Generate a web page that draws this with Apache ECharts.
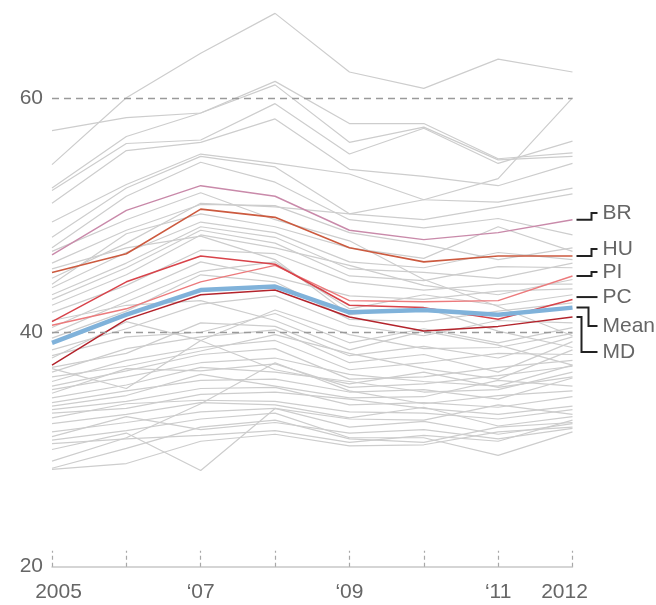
<!DOCTYPE html>
<html>
<head>
<meta charset="utf-8">
<script src="https://cdn.jsdelivr.net/npm/echarts@6/dist/echarts.min.js"></script>
<style>html,body{margin:0;padding:0;background:#fff}#c{width:656px;height:605px}</style>
</head>
<body>
<div id="c"></div>
<script>
var years = [2005, 2006, 2007, 2008, 2009, 2010, 2011, 2012];
var xTickLabels = {2005: '2005', 2007: '\u201807', 2009: '\u201809', 2011: '\u201811', 2012: '2012'};
var yTicks = [20, 40, 60];
var refLines = [40, 60];

var grayLines = [
  [54.3, 60.0, 63.8, 67.2, 62.2, 60.8, 63.3, 62.2],
  [57.2, 58.3, 58.7, 61.4, 57.8, 57.8, 54.8, 55.3],
  [52.3, 56.7, 58.7, 61.1, 56.2, 57.5, 54.7, 55.0],
  [52.1, 56.1, 56.4, 59.5, 55.2, 57.4, 54.4, 56.3],
  [51.0, 55.5, 56.2, 58.2, 53.9, 53.3, 52.5, 54.4],
  [49.4, 52.6, 55.2, 54.4, 53.5, 51.3, 51.1, 52.3],
  [48.1, 52.3, 55.0, 54.1, 50.1, 49.6, 50.7, 51.8],
  [47.2, 51.6, 54.5, 52.8, 49.6, 48.9, 49.7, 48.3],
  [44.6, 47.6, 51.0, 50.7, 50.1, 51.3, 53.1, 60.0],
  [45.9, 48.7, 50.9, 50.8, 48.5, 47.5, 46.2, 47.2],
  [44.1, 48.4, 50.1, 49.0, 47.2, 46.3, 49.0, 46.9],
  [43.8, 46.8, 49.4, 48.5, 46.0, 45.5, 46.8, 46.2],
  [43.2, 45.9, 49.0, 48.1, 45.4, 45.1, 44.6, 45.9],
  [42.8, 45.5, 48.7, 47.6, 44.8, 44.4, 45.6, 45.5],
  [42.3, 44.9, 48.3, 47.2, 45.7, 44.0, 43.2, 44.5],
  [41.7, 44.0, 47.0, 46.7, 44.3, 43.6, 44.1, 44.1],
  [40.4, 43.2, 46.0, 44.7, 43.1, 42.8, 43.5, 43.7],
  [39.9, 42.6, 45.2, 46.0, 42.0, 43.2, 42.3, 43.2],
  [39.5, 41.8, 44.9, 44.3, 41.1, 40.9, 41.8, 42.5],
  [38.5, 40.3, 42.4, 43.1, 40.6, 39.7, 41.0, 40.8],
  [38.0, 39.6, 40.0, 41.6, 39.1, 40.3, 39.1, 40.4],
  [37.8, 40.9, 39.3, 41.9, 39.8, 38.6, 38.7, 39.9],
  [37.0, 38.2, 40.8, 40.5, 38.0, 38.8, 37.8, 39.6],
  [36.6, 38.6, 39.6, 40.2, 37.4, 38.1, 36.6, 39.2],
  [36.2, 37.1, 38.4, 39.8, 38.2, 36.9, 36.0, 38.5],
  [35.8, 37.6, 38.7, 39.3, 36.8, 37.4, 38.2, 38.1],
  [35.4, 36.7, 38.1, 38.6, 36.0, 36.2, 37.0, 37.6],
  [35.1, 36.2, 37.4, 37.8, 36.4, 35.8, 35.4, 37.2],
  [34.8, 36.9, 36.7, 37.3, 35.3, 35.6, 36.3, 37.1],
  [34.4, 35.5, 37.0, 36.6, 35.8, 34.9, 35.1, 36.6],
  [34.0, 35.0, 35.9, 36.0, 34.9, 35.1, 34.3, 36.1],
  [33.7, 34.6, 36.4, 35.4, 34.4, 34.5, 35.9, 35.4],
  [33.4, 34.1, 35.2, 35.3, 33.8, 34.0, 33.6, 34.5],
  [33.1, 33.5, 34.7, 34.9, 34.3, 33.5, 33.0, 33.7],
  [32.7, 33.9, 34.2, 34.1, 33.2, 33.1, 32.6, 33.4],
  [32.2, 33.0, 34.0, 33.8, 32.7, 33.6, 32.0, 32.8],
  [31.5, 32.3, 33.2, 33.5, 31.9, 32.4, 31.3, 32.2],
  [31.1, 32.8, 31.7, 32.3, 31.4, 31.7, 30.9, 31.8],
  [30.8, 31.6, 32.6, 33.1, 31.0, 31.0, 29.5, 31.5],
  [30.0, 31.4, 28.2, 33.5, 32.6, 32.5, 33.8, 33.0],
  [30.5, 30.9, 31.2, 31.6, 30.6, 31.2, 30.7, 32.5],
  [28.3, 28.8, 30.7, 31.3, 30.3, 30.4, 31.5, 31.9],
  [28.4, 30.1, 31.9, 32.5, 30.9, 30.6, 31.9, 32.3],
  [36.9, 35.2, 39.3, 36.8, 35.6, 36.6, 35.3, 36.2],
  [29.0, 31.0, 33.9, 37.4, 35.0, 33.9, 34.6, 35.0],
  [41.0, 42.3, 42.7, 41.0, 38.5, 40.1, 38.9, 37.2],
  [45.4, 47.2, 48.2, 46.2, 41.5, 42.1, 40.1, 38.7],
  [46.9, 49.6, 51.9, 49.6, 47.8, 44.5, 42.2, 39.7]
];

var highlightNames = ['BR', 'HU', 'PI', 'PC', 'MD', 'Mean'];
var brValues   = [46.6, 50.4, 52.5, 51.6, 48.7, 47.9, 48.5, 49.6];
var huValues   = [45.1, 46.7, 50.5, 49.8, 47.2, 46.0, 46.5, 46.5];
var piValues   = [40.6, 42.0, 44.3, 45.7, 42.7, 42.6, 42.7, 44.8];
var pcValues   = [40.9, 44.3, 46.5, 45.8, 42.3, 42.1, 41.1, 42.8];
var mdValues   = [37.2, 41.1, 43.2, 43.6, 41.3, 40.1, 40.5, 41.3];
var meanValues = [39.1, 41.5, 43.6, 43.9, 41.7, 41.9, 41.5, 42.1];
// label anchor positions (in data units) for the right-hand labels
var labelValues = {BR: 50.17, HU: 47.1, PI: 45.14, PC: 43.0, Mean: 40.54, MD: 38.32};

var highlightData = {BR: brValues, HU: huValues, PI: piValues, PC: pcValues, MD: mdValues, Mean: meanValues};
var highlightColors = {BR: '#c98aaa', HU: '#cc5a3f', PI: '#ec7a7c', PC: '#d8434a', MD: '#b3242c', Mean: '#80b2da'};
var highlightWidths = {BR: 1.4, HU: 1.6, PI: 1.4, PC: 1.5, MD: 1.5, Mean: 4.5};
// step x offsets (pixels to the right of the grid edge) for connectors
var stepOffsets = {BR: 19, HU: 19, PI: 19, PC: 0, Mean: 16, MD: 9};

function pair(vals) { return vals.map(function (v, i) { return [years[i], v]; }); }

var series = [];
grayLines.forEach(function (vals, i) {
  var s = {
    type: 'line', data: pair(vals), symbol: 'none', silent: true,
    lineStyle: {color: '#cdcdcd', width: 1.2}, z: 2
  };
  if (i === 0) {
    s.markLine = {
      silent: true, symbol: 'none', label: {show: false},
      lineStyle: {color: '#9a9a9a', type: [7, 5], width: 1.3},
      data: refLines.map(function (v) { return {yAxis: v}; })
    };
  }
  series.push(s);
});
highlightNames.forEach(function (n) {
  series.push({
    type: 'line', name: n, data: pair(highlightData[n]), symbol: 'none', silent: true,
    lineStyle: {color: highlightColors[n], width: highlightWidths[n]},
    z: n === 'Mean' ? 5 : 4
  });
});

var chart = echarts.init(document.getElementById('c'), null, {renderer: 'canvas'});
var textFont = '"Liberation Sans", Arial, sans-serif';
chart.setOption({
  animation: false,
  grid: {left: 52, right: 83.5, top: 4, bottom: 38.3},
  xAxis: {
    type: 'value', min: 2005, max: 2012, interval: 1,
    axisLine: {show: true, lineStyle: {color: '#c8c8c8', width: 1.5}},
    axisTick: {show: true, inside: true, length: 16, lineStyle: {color: '#a8a8a8', type: [4, 3], width: 1.2}},
    splitLine: {show: false},
    axisLabel: {
      margin: 15, fontSize: 21, color: '#666', fontFamily: textFont,
      formatter: function (v) {
        var t = xTickLabels[v];
        if (!t) return '';
        if (v === years[0]) return '{first|' + t + '}';
        if (v === years[years.length - 1]) return '{last|' + t + '}';
        return t;
      },
      rich: {
        first: {padding: [0, 0, 0, 13], fontSize: 21, color: '#666', fontFamily: textFont},
        last: {padding: [0, 16, 0, 0], fontSize: 21, color: '#666', fontFamily: textFont}
      }
    }
  },
  yAxis: {
    type: 'value', min: 20, max: 68, interval: 20,
    axisLine: {show: false}, axisTick: {show: false}, splitLine: {show: false},
    axisLabel: {
      margin: 9, fontSize: 21, color: '#666', fontFamily: textFont,
      formatter: function (v) { return yTicks.indexOf(v) >= 0 ? String(v) : ''; }
    }
  },
  series: series
});

var graphics = [];
highlightNames.forEach(function (n) {
  var vals = highlightData[n];
  var start = chart.convertToPixel({gridIndex: 0}, [years[years.length - 1], vals[vals.length - 1]]);
  var lab = chart.convertToPixel({gridIndex: 0}, [years[years.length - 1], labelValues[n]]);
  var x0 = start[0] + 4, xe = start[0] + 25;
  var pts;
  if (stepOffsets[n] === 0) {
    pts = [[x0, lab[1]], [xe, lab[1]]];
  } else {
    var xs = start[0] + stepOffsets[n];
    pts = [[x0, start[1]], [xs, start[1]], [xs, lab[1]], [xe, lab[1]]];
  }
  graphics.push({
    type: 'polyline', silent: true, z: 10,
    shape: {points: pts},
    style: {stroke: '#222', lineWidth: 2, fill: null}
  });
  graphics.push({
    type: 'text', silent: true, z: 10,
    x: start[0] + 30, y: lab[1],
    style: {text: n, fontSize: 21, fill: '#666', font: '21px ' + textFont, textVerticalAlign: 'middle', verticalAlign: 'middle'}
  });
});
chart.setOption({graphic: graphics});
</script>
</body>
</html>
